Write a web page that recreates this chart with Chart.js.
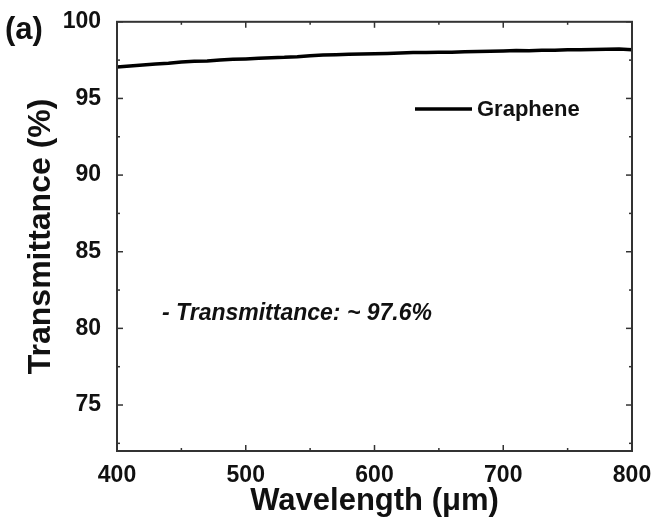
<!DOCTYPE html>
<html>
<head>
<meta charset="utf-8">
<script src="https://cdn.jsdelivr.net/npm/chart.js@4.4.1/dist/chart.umd.min.js"></script>
<style>
  html, body { margin: 0; padding: 0; background: #fff; }
  #wrap { width: 661px; height: 528px; }
</style>
</head>
<body>
<div id="wrap"><canvas id="chart"></canvas></div>
<script>
// wavelength (nm) and measured transmittance (%)
const wavelengths = [400, 410, 420, 430, 440, 450, 460, 470, 480, 490,
  500, 510, 520, 530, 540, 550, 560, 570, 580, 590,
  600, 610, 620, 630, 640, 650, 660, 670, 680, 690,
  700, 710, 720, 730, 740, 750, 760, 770, 780, 790, 800];
const transmittance = [97.05, 97.12, 97.18, 97.24, 97.30, 97.38, 97.42, 97.45, 97.50, 97.55,
  97.58, 97.62, 97.66, 97.68, 97.72, 97.78, 97.83, 97.85, 97.88, 97.90,
  97.92, 97.94, 97.97, 98.00, 97.99, 98.01, 98.02, 98.04, 98.06, 98.08,
  98.10, 98.12, 98.11, 98.14, 98.15, 98.17, 98.18, 98.20, 98.21, 98.23, 98.18];
const xTicks = [400, 500, 600, 700, 800];
const xMinorTicks = [450, 550, 650, 750];
const yTicks = [75, 80, 85, 90, 95, 100];
const yMinorTicks = [72.5, 77.5, 82.5, 87.5, 92.5, 97.5];

const FONT = 'Arial, "Liberation Sans", sans-serif';

// box, inward ticks, legend and notes
const frame = {
  id: 'frame',
  afterDraw(chart) {
    const { ctx, chartArea: a, scales: { x, y } } = chart;
    ctx.save();
    ctx.strokeStyle = '#333';
    ctx.lineWidth = 2;
    ctx.strokeRect(a.left, a.top, a.right - a.left, a.bottom - a.top);

    ctx.lineWidth = 1.5;
    const tick = (x1, y1, x2, y2) => { ctx.beginPath(); ctx.moveTo(x1, y1); ctx.lineTo(x2, y2); ctx.stroke(); };
    xTicks.forEach(v => { const px = x.getPixelForValue(v); tick(px, a.bottom, px, a.bottom - 6); tick(px, a.top, px, a.top + 6); });
    xMinorTicks.forEach(v => { const px = x.getPixelForValue(v); tick(px, a.bottom, px, a.bottom - 3); tick(px, a.top, px, a.top + 3); });
    yTicks.forEach(v => { const py = y.getPixelForValue(v); tick(a.left, py, a.left + 6, py); tick(a.right, py, a.right - 6, py); });
    yMinorTicks.forEach(v => { const py = y.getPixelForValue(v); tick(a.left, py, a.left + 3, py); tick(a.right, py, a.right - 3, py); });

    // legend
    const ds = chart.data.datasets[0];
    ctx.strokeStyle = ds.borderColor;
    ctx.lineWidth = 3.5;
    tick(415, 109, 472, 109);
    ctx.fillStyle = '#111';
    ctx.font = 'bold 22px ' + FONT;
    ctx.textBaseline = 'middle';
    ctx.textAlign = 'left';
    ctx.fillText(ds.label, 477, 110);

    // note
    ctx.font = 'italic bold 23px ' + FONT;
    ctx.fillText('- Transmittance: ~ 97.6%', 162, 314);

    // panel label
    ctx.font = 'bold 31px ' + FONT;
    ctx.fillText('(a)', 5, 30);
    ctx.restore();
  }
};

new Chart(document.getElementById('chart'), {
  type: 'line',
  data: {
    datasets: [{
      label: 'Graphene',
      data: wavelengths.map((w, i) => ({ x: w, y: transmittance[i] })),
      borderColor: '#000',
      borderWidth: 3.5,
      pointRadius: 0,
      tension: 0,
      fill: false
    }]
  },
  options: {
    responsive: true,
    maintainAspectRatio: false,
    animation: false,
    layout: { padding: { top: 18, right: 29, bottom: 4, left: 0 } },
    plugins: { legend: { display: false }, tooltip: { enabled: false } },
    scales: {
      x: {
        type: 'linear',
        min: 400,
        max: 800,
        afterBuildTicks: s => { s.ticks = xTicks.map(v => ({ value: v })); },
        afterFit: s => { s.height = 73; },
        grid: { display: false },
        border: { display: false },
        ticks: { color: '#111', padding: 3, font: { family: FONT, size: 23, weight: 'bold' }, maxRotation: 0 },
        title: { display: true, text: 'Wavelength (μm)', color: '#111', padding: { top: 0 }, font: { family: FONT, size: 31, weight: 'bold' } }
      },
      y: {
        min: 72,
        max: 100,
        afterBuildTicks: s => { s.ticks = yTicks.map(v => ({ value: v })); },
        afterFit: s => { s.width = 117; },
        grid: { display: false },
        border: { display: false },
        ticks: { color: '#111', padding: 8, font: { family: FONT, size: 23, weight: 'bold' } },
        title: { display: true, text: 'Transmittance (%)', color: '#111', padding: { top: 22, bottom: 0 }, font: { family: FONT, size: 32, weight: 'bold' } }
      }
    }
  },
  plugins: [frame]
});
</script>
</body>
</html>
